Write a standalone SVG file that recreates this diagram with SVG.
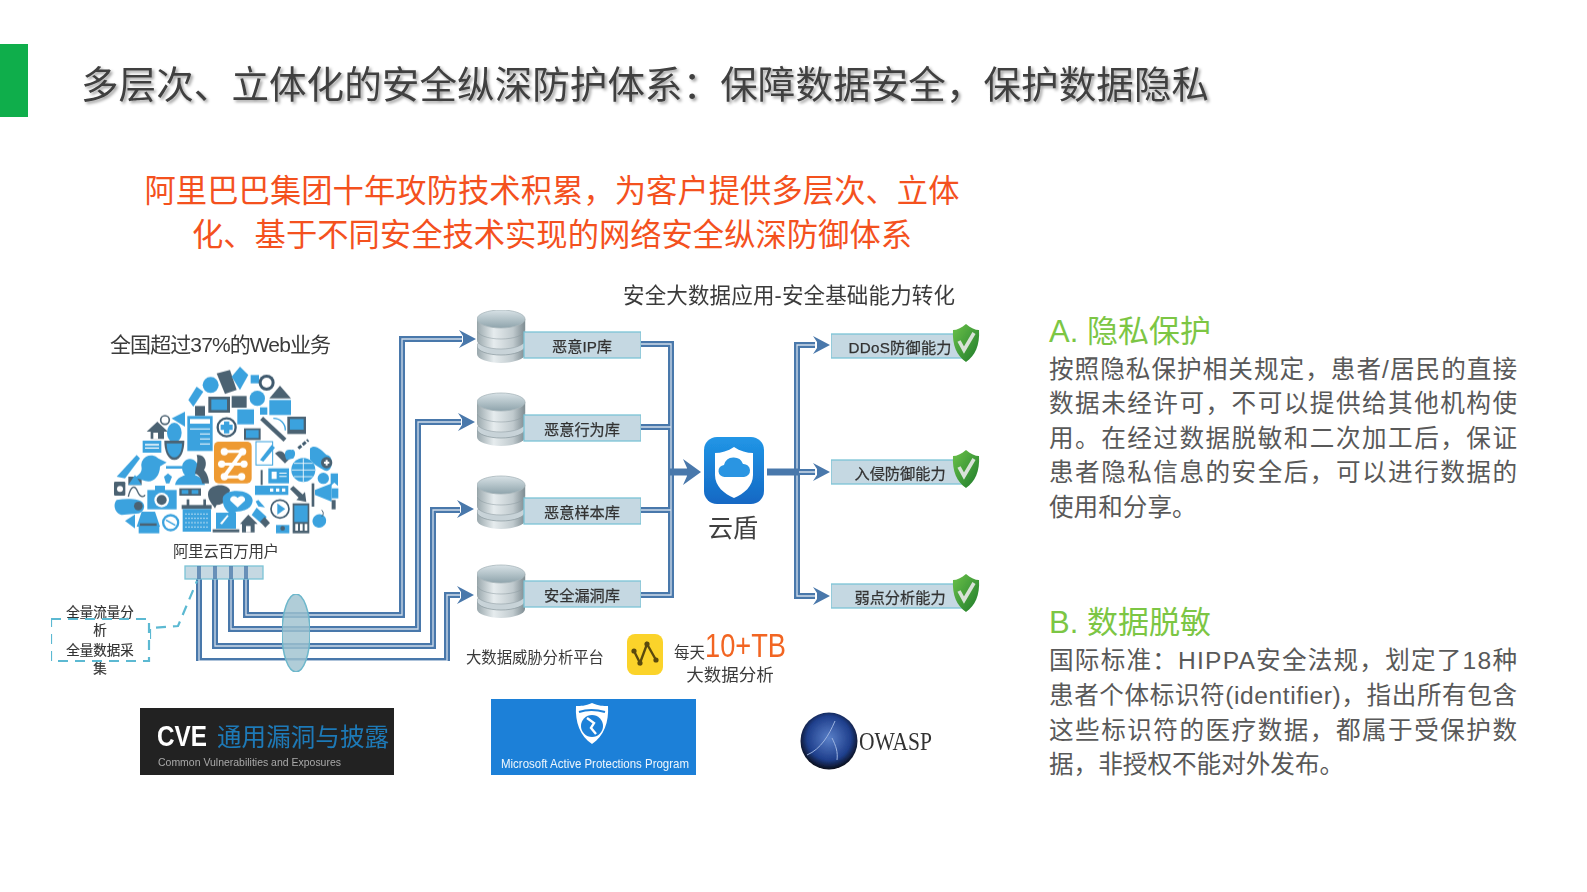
<svg xmlns="http://www.w3.org/2000/svg" width="1587" height="892" viewBox="0 0 1587 892">
<style>
text{font-family:"Liberation Sans","Noto Sans CJK SC",sans-serif}
.title{font-size:37.5px;fill:#404040;filter:url(#ts)}
.lead{font-size:31.3px;fill:#f4511e;text-anchor:middle}
.head{font-size:31px;fill:#7cc644}
.body{font-size:24.6px;fill:#595959}
.lab{fill:#333;font-size:15.2px;text-anchor:middle;stroke:#333;stroke-width:.25}
.l2{fill:#3a3a3a}
.bar{fill:#c5d8e2;stroke:#7cc4d6;stroke-width:1.3}
.o{fill:none;stroke:#4a78ab;stroke-width:6}
.i{fill:none;stroke:#cfdcea;stroke-width:1.3}
.b{fill:#3aa2de}.d{fill:#4c6272}.w{fill:#fff}
.dash{fill:none;stroke:#5cb9d2;stroke-width:2.2;stroke-dasharray:10 7}
</style>
<defs>
<filter id="ts" x="-2%" y="-30%" width="104%" height="170%"><feDropShadow dx="2" dy="2" stdDeviation="1.8" flood-color="#000" flood-opacity=".38"/></filter>
<filter id="soft" x="0" y="0" width="100%" height="100%" filterUnits="objectBoundingBox"><feGaussianBlur stdDeviation=".5"/></filter>
<linearGradient id="disc" x1="0" x2="1" y1="0" y2="0"><stop offset="0" stop-color="#9aa8ad"/><stop offset=".35" stop-color="#e6ecee"/><stop offset=".75" stop-color="#c0cace"/><stop offset="1" stop-color="#7e8c92"/></linearGradient>
<linearGradient id="top" x1="0" x2="0" y1="0" y2="1"><stop offset="0" stop-color="#d8e2e6"/><stop offset="1" stop-color="#8fa4ac"/></linearGradient>
<linearGradient id="blue" x1="0" x2="0" y1="0" y2="1"><stop offset="0" stop-color="#2196e6"/><stop offset="1" stop-color="#1568c4"/></linearGradient>
<linearGradient id="green" x1="0" x2="1" y1="0" y2="1"><stop offset="0" stop-color="#6cc24a"/><stop offset="1" stop-color="#1d7a2a"/></linearGradient>
<radialGradient id="ow" cx=".5" cy=".45" r=".55"><stop offset="0" stop-color="#5a80c8"/><stop offset=".7" stop-color="#1f3f8c"/><stop offset="1" stop-color="#0a0d18"/></radialGradient>
<path id="ah" d="M-17,-9 L0,0 L-17,9 L-13,3 L-13,-3Z" fill="#4a78ab"/>
<g id="db">
<path d="M-24,36 v8 a24,9 0 0 0 48,0 v-8Z" fill="url(#disc)"/>
<ellipse cx="0" cy="36" rx="24" ry="9" fill="#c8d3d8" stroke="#8a989e" stroke-width=".7"/>
<path d="M-24,21 v9 a24,9 0 0 0 48,0 v-9Z" fill="url(#disc)" stroke="#8a989e" stroke-width=".5"/>
<path d="M-24,9 v11 a24,9 0 0 0 48,0 v-11Z" fill="url(#disc)" stroke="#8a989e" stroke-width=".5"/>
<ellipse cx="0" cy="9" rx="24" ry="9" fill="url(#top)" stroke="#a8b6bb" stroke-width=".8"/>
</g>
<g id="chk">
<path d="M0,-19 C5,-15 9,-13 13,-13 C14,2 9,13 0,19 C-9,13 -14,2 -13,-13 C-9,-13 -5,-15 0,-19Z" fill="url(#green)"/>
<path d="M-7,-2 L-2,7 L8,-10" fill="none" stroke="#d8e2d8" stroke-width="3.6"/>
</g>
<path id="p1" d="M246,567V615H402V339H462"/>
<path id="p2" d="M231,567V629H418V422H461"/>
<path id="p3" d="M215,567V646H433V510H460"/>
<path id="p4" d="M199,567V661H447V595H460"/>
<path id="p5" d="M641,344H671V595H641M641,427H671M641,510H671"/>
<path id="p6" d="M815,345H797V596H815M767,472H815"/>
</defs>
<rect width="1587" height="892" fill="#fff"/>
<rect x="0" y="44" width="28" height="73" fill="#0fae4b"/>
<text class="title" x="81" y="98" textLength="1128">多层次、立体化的安全纵深防护体系&#xFF1A;保障数据安全&#xFF0C;保护数据隐私</text>
<text class="lead" x="552" y="202" textLength="815">阿里巴巴集团十年攻防技术积累&#xFF0C;为客户提供多层次、立体</text>
<text class="lead" x="552" y="246" textLength="720">化、基于不同安全技术实现的网络安全纵深防御体系</text>

<g id="connectors" filter="url(#soft)">
<use href="#p4" class="o"/><use href="#p4" class="i"/>
<use href="#p3" class="o"/><use href="#p3" class="i"/>
<use href="#p2" class="o"/><use href="#p2" class="i"/>
<use href="#p1" class="o"/><use href="#p1" class="i"/>
<use href="#ah" x="476" y="339"/><use href="#ah" x="475" y="422"/><use href="#ah" x="474" y="509"/><use href="#ah" x="474" y="595"/>
<use href="#p5" class="o"/><use href="#p5" class="i"/>
<path d="M669,472H690" stroke="#4a78ab" stroke-width="7" fill="none"/>
<path d="M683,459L701,472L683,485L687,476V468Z" fill="#4a78ab"/>
<use href="#p6" class="o"/><use href="#p6" class="i"/>
<path d="M767,472H799" stroke="#4a78ab" stroke-width="7" fill="none"/>
<use href="#ah" x="830" y="345"/><use href="#ah" x="830" y="472"/><use href="#ah" x="830" y="596"/>
<path class="dash" d="M150,639V628L178,626L197,581"/>
</g>

<g id="lens" filter="url(#soft)"><ellipse cx="296" cy="633" rx="14" ry="39" fill="#9fc2d0" fill-opacity=".82" stroke="#6db7cb" stroke-width="1.5"/></g>

<g id="cloud" filter="url(#soft)" transform="translate(40 320) scale(.3333)">
<path class="d" d="M530,160l40,-10 20,60 -35,12Z"/><path class="b" d="M575,170l25,-30 25,25 -25,45Z"/><circle class="b" cx="512" cy="195" r="24"/><path class="b" d="M632,165h25v25h-25Z"/><circle cx="680" cy="188" r="24" fill="#3f5a6e"/><circle class="w" cx="680" cy="188" r="15"/><path class="b" d="M445,240l25,-40 20,15 -30,45Z"/>
<circle class="b" cx="652" cy="235" r="23"/><path class="d" d="M688,235l32,-38 33,38Z"/><path class="b" d="M688,240h65v45h-65Z"/><path class="d" d="M505,230h65v48h-65Z"/><path class="b" d="M514,238h47v32h-47Z"/><path class="d" d="M465,258h30v30h-30Z"/><path class="d" d="M575,228h45v35h-45Z"/><path class="b" d="M592,268h50v45h-50Z"/><path class="b" d="M660,262h22v22h-22Z"/>
<path class="b" d="M395,295l40,-20v45Z"/><path class="d" d="M320,335l32,-30 32,30h-12v22h-40v-22Z"/><path class="w" d="M340,338h14v19h-14Z"/><circle cx="375" cy="300" r="13" fill="none" stroke="#4c6272" stroke-width="5"/>
<rect class="b" x="442" y="288" width="76" height="105"/><rect class="w" x="450" y="297" width="60" height="14"/><path class="w" d="M450,325h60v3h-60ZM480,340h30v3h-30ZM480,355h30v3h-30ZM480,370h30v3h-30Z"/>
<circle cx="560" cy="322" r="27" fill="#fff" stroke="#3f5a6e" stroke-width="7"/><path class="b" d="M552,304h16v10h10v16h-10v10h-16v-10h-10v-16h10Z"/>
<path class="d" d="M612,325h50v35h-50Z"/><path class="b" d="M618,330h38v24h-38Z"/><path d="M665,295l70,65" stroke="#4c6272" stroke-width="13" fill="none"/><path d="M700,295a35,35 0 0 1 36,36" fill="none" stroke="#3aa2de" stroke-width="4"/>
<rect class="d" x="742" y="290" width="56" height="52"/><rect class="b" x="750" y="297" width="41" height="32"/>
<ellipse class="b" cx="403" cy="338" rx="22" ry="30"/><path class="d" d="M373,362h60c0,30 -10,58 -30,58s-30,-28 -30,-58Z"/><path class="b" d="M380,370h46c0,22 -8,42 -23,42s-23,-20 -23,-42Z"/><path class="b" d="M378,438h50v8h-50Z"/>
<rect class="b" x="308" y="362" width="56" height="36"/><path class="w" d="M315,372h42v4h-42ZM315,382h42v4h-42Z"/>
<path class="b" d="M230,470l60,-65 10,10 -45,60Z"/><path class="d" d="M265,470h40v25h-40Z"/><path class="b" d="M305,445a30,30 0 0 1 50,-30l25,12 -20,12c0,25 -15,45 -35,45 -12,0 -25,-8 -45,-10 15,-8 25,-15 25,-29Z"/><path class="b" d="M372,470l12,-10 12,10 -8,20h-10Z"/>
<path class="b" d="M405,495c5,-25 25,-25 30,-30 -12,-10 -15,-45 15,-48 30,3 27,38 15,48 5,5 25,5 30,30Z"/><path class="d" d="M470,405c25,-5 35,25 22,45 8,8 15,25 15,40h-20c-3,-15 -10,-25 -22,-30 5,-20 10,-40 5,-55Z"/>
<rect x="522" y="365" width="113" height="125" rx="14" fill="#ee9a30"/><g class="w"><circle cx="553" cy="395" r="11"/><circle cx="608" cy="395" r="11"/><circle cx="545" cy="432" r="11"/><circle cx="612" cy="432" r="11"/><circle cx="553" cy="470" r="11"/><circle cx="605" cy="470" r="11"/><path d="M553,390h55v9h-55ZM545,428h67v9h-67ZM553,466h52v9h-52ZM600,395l10,6 -50,68 -10,-6Z"/></g>
<rect class="w" x="648" y="365" width="50" height="70" stroke="#3aa2de" stroke-width="3"/><path class="b" d="M660,420l35,-45 10,8 -35,42Z"/><path class="d" d="M735,430l-30,-30c15,-12 25,-5 30,3 5,-8 15,-15 30,-3Z"/><path class="b" d="M740,420c-10,-20 -5,-35 15,-30 10,-5 15,15 5,25Z"/>
<path d="M775,385l30,-25" stroke="#3f5a6e" stroke-width="9" stroke-dasharray="12 5"/><path class="b" d="M810,385c15,-15 35,5 50,20 20,0 22,45 0,48 -15,-5 -40,-20 -50,-35Z"/><circle class="d" cx="860" cy="428" r="17"/>
<path class="w" d="M852,425h16v6h-16ZM857,420h6v16h-6Z"/>
<circle class="b" cx="790" cy="450" r="36"/><path d="M755,450h70M790,415v70M762,430h56M762,470h56" stroke="#fff" stroke-width="2.5"/>
<path class="b" d="M685,445h62v45h-62Z"/><path class="w" d="M695,455h15v22h-15ZM718,458h22v3h-22ZM718,468h22v3h-22Z"/>
<path class="b" d="M645,497h100v28h-100Z"/><path class="w" d="M690,505h10v10h-10ZM708,505h10v10h-10ZM726,505h10v10h-10Z"/>
<rect class="d" x="662" y="450" width="6" height="45"/><circle class="b" cx="850" cy="475" r="17"/><path class="b" d="M872,460h22v38l-11,-10 -11,10Z"/>
<path class="d" d="M760,498l28,25 7,-7 4,30 -30,-6 7,-7 -26,-26Z"/><path class="b" d="M825,510l50,-20v55l-50,-20Z"/><rect class="d" x="815" y="490" width="8" height="70"/><path class="b" d="M875,505h20v30h-20Z"/><rect class="d" x="875" y="540" width="12" height="28"/>
<rect class="d" x="222" y="485" width="34" height="42" rx="4"/><circle class="w" cx="240" cy="507" r="9"/><path d="M265,530c8,-35 20,-35 28,-15s20,15 22,10" fill="none" stroke="#4c6272" stroke-width="4"/><path class="b" d="M230,540c30,-5 70,-5 80,10 8,15 -5,30 -15,30l-50,5c-20,-5 -28,-30 -15,-45Z"/><circle class="d" cx="295" cy="558" r="13"/>
<path class="b" d="M265,495h40l-20,-30Z"/><path class="b" d="M322,510h88v58h-88Z"/><path class="b" d="M345,497h30v15h-30Z"/><circle cx="365" cy="540" r="22" fill="#fff"/><circle class="d" cx="365" cy="540" r="15"/>
<path class="d" d="M418,505h65v22h-65Z"/><path class="b" d="M425,510h20v12h-20ZM455,510h20v12h-20Z"/>
<path class="d" d="M505,515c10,-25 55,-25 65,-5 -5,25 -15,45 -40,45l-5,10c-10,-15 -25,-30 -20,-50Z"/><path class="b" d="M548,535c5,-30 85,-30 90,5 0,30 -35,35 -50,35l-10,15c-3,-12 -30,-15 -30,-55Z"/><path class="w" d="M593,562l-22,-20c-3,-15 15,-18 22,-8 7,-10 25,-7 22,8Z"/>
<path class="d" d="M425,555h90v12h-90Z"/><rect class="b" x="428" y="567" width="85" height="68"/><path stroke="#fff" stroke-width="2" stroke-dasharray="6 3" d="M435,582h70M435,595h70M435,608h70M435,621h70"/><rect class="d" x="440" y="538" width="8" height="20"/><rect class="d" x="490" y="538" width="8" height="20"/>
<path class="b" d="M655,540l20,22 -20,-3 -8,-15Z"/><circle cx="720" cy="567" r="27" fill="#fff" stroke="#3f5a6e" stroke-width="5"/><path class="b" d="M712,550l24,17 -24,17Z"/>
<path class="d" d="M758,550h50v90h-50Z"/><path class="b" d="M763,556h40v50h-40Z"/><path class="w" d="M766,612h8v20h-8ZM780,612h8v20h-8ZM794,612h8v20h-8Z"/>
<ellipse class="b" cx="838" cy="603" rx="21" ry="20" transform="rotate(-30 838 603)"/><path d="M845,590q10,-10 0,-20" stroke="#4c6272" stroke-width="3" fill="none"/>
<path class="b" d="M255,603l30,-20v42Z"/><circle cx="392" cy="608" r="26" fill="#3aa2de"/><circle cx="392" cy="608" r="19" fill="#fff"/><path d="M378,600l28,16" stroke="#3aa2de" stroke-width="4"/>
<path class="b" d="M290,620l15,-45h40l15,45Z"/><path class="d" d="M300,610h50v8h-50Z"/><rect class="b" x="296" y="618" width="62" height="22"/>
<path class="b" d="M528,578h60v48h-60Z"/><path class="w" d="M540,610l22,-25 4,3 -20,25Z"/><path class="d" d="M518,628h80v9h-80Z"/>
<path class="d" d="M600,612l25,-28 28,28h-9v25h-38v-25Z"/><path class="w" d="M618,618h14v19h-14Z"/><path class="b" d="M635,585l15,-22 30,28 -15,20Z"/><path class="d" d="M660,605l14,-14 16,18 -14,14Z"/><circle class="w" cx="690" cy="630" r="8"/><path class="b" d="M708,615h40v25h-40Z"/><circle class="d" cx="728" cy="625" r="7"/>
<path class="b" d="M440,465l12,-5v30h-12Z"/>
</g>

<g id="store" filter="url(#soft)">
<g id="db-ip"><use href="#db" x="501" y="310"/><rect class="bar" x="524" y="332" width="117" height="26"/><text class="lab" x="582" y="352">恶意IP库</text></g>
<g id="db-behavior"><use href="#db" x="501" y="393"/><rect class="bar" x="524" y="415" width="117" height="26"/><text class="lab" x="582" y="435">恶意行为库</text></g>
<g id="db-sample"><use href="#db" x="501" y="476"/><rect class="bar" x="524" y="498" width="117" height="26"/><text class="lab" x="582" y="518">恶意样本库</text></g>
<g id="db-vuln"><use href="#db" x="501" y="565"/><rect class="bar" x="524" y="581" width="117" height="26"/><text class="lab" x="582" y="601">安全漏洞库</text></g>
</g>

<g id="yundun" filter="url(#soft)">
<rect x="704" y="437" width="60" height="67" rx="13" fill="url(#blue)"/>
<path d="M734,447c6,4 13,6 19,6v22c0,11 -9,19 -19,23c-10,-4 -19,-12 -19,-23v-22c6,0 13,-2 19,-6Z" fill="#fff"/>
<path d="M725,477a6,6 0 0 1 -1,-12a10,10 0 0 1 19,-1a6.5,6.5 0 0 1 1,13Z" fill="#2a95e2"/>
<text x="733" y="537" font-size="25" text-anchor="middle" fill="#404040">云盾</text>
</g>

<g id="caps" filter="url(#soft)">
<g id="cap-ddos"><rect class="bar" x="831" y="334" width="133" height="24"/><use href="#chk" x="966" y="343"/><text class="lab" x="900" y="353" textLength="103">DDoS防御能力</text></g>
<g id="cap-ips"><rect class="bar" x="831" y="460" width="133" height="24"/><use href="#chk" x="966" y="469"/><text class="lab" x="900" y="479">入侵防御能力</text></g>
<g id="cap-vuln"><rect class="bar" x="831" y="584" width="133" height="24"/><use href="#chk" x="966" y="593"/><text class="lab" x="900" y="603">弱点分析能力</text></g>
</g>

<g id="labels" filter="url(#soft)">
<text x="623" y="303" font-size="21.5" class="l2" textLength="332">安全大数据应用-安全基础能力转化</text>
<text x="110" y="352" font-size="21" class="l2" textLength="221">全国超过37%的Web业务</text>
<text x="173" y="557" font-size="15.5" class="l2" textLength="106">阿里云百万用户</text>
<text x="466" y="663" font-size="15.4" class="l2" textLength="138">大数据威胁分析平台</text>
<g id="collect" font-size="13.5" fill="#333" text-anchor="middle" stroke="#333" stroke-width=".2">
<text x="100" y="617">全量流量分</text><text x="100" y="635">析</text><text x="100" y="655">全量数据采</text><text x="100" y="673">集</text>
</g>
<rect class="bar" x="185" y="566" width="78" height="13"/>
<path d="M199,566V579M215,566V579M231,566V579M246,566V579" stroke="#4a78ab" stroke-width="4" opacity=".75"/>
<path class="dash" d="M51,619H149V661H51Z"/>
<g id="bigdata">
<rect x="627" y="634" width="36" height="41" rx="8" fill="#fbd32a"/>
<path d="M634,651L640,663L647,644L656,660" fill="none" stroke="#5a4a10" stroke-width="2.4"/>
<circle cx="634" cy="651" r="2.6" fill="#5a4a10"/><circle cx="640" cy="663" r="2.6" fill="#5a4a10"/><circle cx="647" cy="644" r="2.6" fill="#5a4a10"/><circle cx="656" cy="660" r="2.6" fill="#5a4a10"/>
<text x="674" y="658" font-size="15.5" class="l2">每天</text>
<text x="705" y="657" font-size="33" fill="#f26522" textLength="81" lengthAdjust="spacingAndGlyphs">10+TB</text>
<text x="730" y="681" font-size="17.5" class="l2" text-anchor="middle">大数据分析</text>
</g>
</g>

<g id="logos" filter="url(#soft)">
<g id="logo-cve"><rect x="140" y="708" width="254" height="67" fill="#242424"/>
<text x="157" y="746" font-size="29" font-weight="bold" fill="#fff" textLength="50" lengthAdjust="spacingAndGlyphs">CVE</text>
<text x="217" y="746" font-size="24.5" fill="#1f7ab8" textLength="172">通用漏洞与披露</text>
<text x="158" y="766" font-size="11.5" fill="#a8a8a8" textLength="183" lengthAdjust="spacingAndGlyphs">Common Vulnerabilities and Exposures</text></g>
<g id="logo-map"><rect x="491" y="699" width="205" height="76" fill="#1e80d8"/>
<path d="M592,703c7,3 11,3 16,3c1,16 -4,30 -16,38c-12,-8 -17,-22 -16,-38c5,0 9,0 16,-3Z" fill="#fff"/>
<circle cx="592" cy="726" r="11" fill="#1e80d8"/><path d="M587,718l7,5 -3,5 5,6" fill="none" stroke="#fff" stroke-width="2.4"/><path d="M579,712q12,-4 26,0" stroke="#1e80d8" stroke-width="2" fill="none"/>
<text x="501" y="768" font-size="13" fill="#eef6fc" textLength="188" lengthAdjust="spacingAndGlyphs">Microsoft Active Protections Program</text></g>
<g id="logo-owasp"><circle cx="829" cy="741" r="28.5" fill="url(#ow)"/><path d="M807,755c14,-6 22,-20 28,-34M832,738c4,8 6,14 5,22" stroke="#9db4e0" stroke-width="1" fill="none"/>
<text x="859" y="750" font-size="25" fill="#333" style="font-family:'Liberation Serif',serif" textLength="73" lengthAdjust="spacingAndGlyphs">OWASP</text></g>
</g>

<g id="panel-a">
<text class="head" x="1049" y="342">A. 隐私保护</text>
<text class="body" x="1049" y="378" textLength="468">按照隐私保护相关规定&#xFF0C;患者/居民的直接</text>
<text class="body" x="1049" y="412" textLength="468">数据未经许可&#xFF0C;不可以提供给其他机构使</text>
<text class="body" x="1049" y="447" textLength="468">用。在经过数据脱敏和二次加工后&#xFF0C;保证</text>
<text class="body" x="1049" y="481" textLength="468">患者隐私信息的安全后&#xFF0C;可以进行数据的</text>
<text class="body" x="1049" y="516">使用和分享。</text>
</g>
<g id="panel-b">
<text class="head" x="1049" y="633">B. 数据脱敏</text>
<text class="body" x="1049" y="669" textLength="468">国际标准&#xFF1A;HIPPA安全法规&#xFF0C;划定了18种</text>
<text class="body" x="1049" y="704" textLength="468">患者个体标识符(identifier)&#xFF0C;指出所有包含</text>
<text class="body" x="1049" y="739" textLength="468">这些标识符的医疗数据&#xFF0C;都属于受保护数</text>
<text class="body" x="1049" y="773">据&#xFF0C;非授权不能对外发布。</text>
</g>
</svg>
